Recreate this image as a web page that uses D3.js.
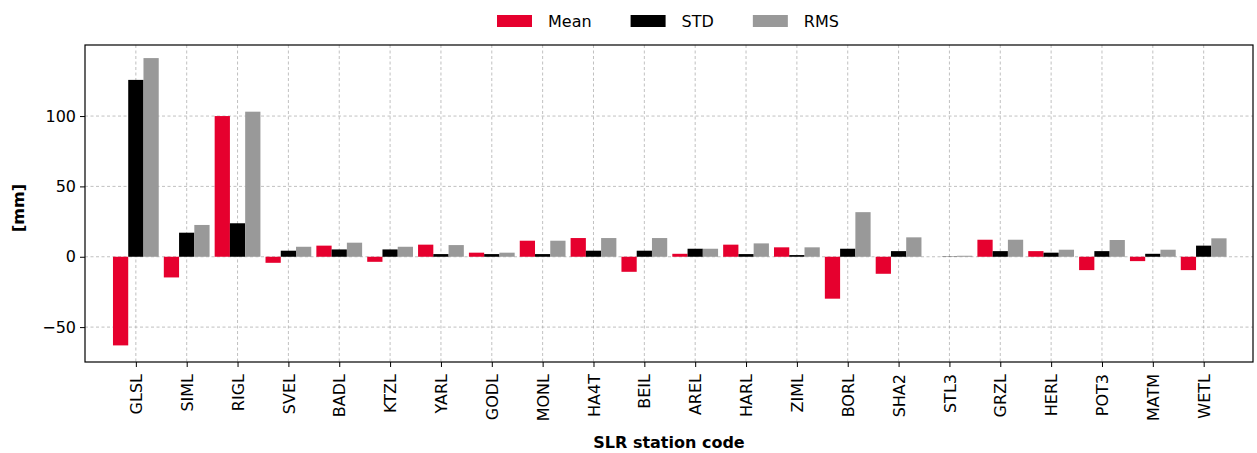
<!DOCTYPE html>
<html>
<head>
<meta charset="utf-8">
<script src="https://cdn.jsdelivr.net/npm/d3@7"></script>
<style>
    body { margin: 0; background: #fff; }
    svg text { font-family: "DejaVu Sans", sans-serif; }
</style>
</head>
<body>
<script>
// Station codes and values [mm]
const stations = ["GLSL", "SIML", "RIGL", "SVEL", "BADL", "KTZL", "YARL", "GODL", "MONL", "HA4T", "BEIL",
    "AREL", "HARL", "ZIML", "BORL", "SHA2", "STL3", "GRZL", "HERL", "POT3", "MATM", "WETL"];
const meanVals = [-63, -14.7, 100, -4.3, 7.9, -3.6, 8.6, 2.9, 11.4, 13.3, -10.7,
    2.1, 8.6, 6.7, -29.8, -12.1, 0, 12.1, 4, -9.5, -3.1, -9.5];
const stdVals = [125.7, 17.1, 23.8, 4.3, 5.2, 5.2, 1.9, 1.9, 1.9, 4.3, 4.3,
    5.7, 1.9, 1.2, 5.7, 4, 0.2, 4, 2.9, 4, 2.1, 7.9];
const rmsVals = [141.2, 22.6, 103.1, 7.1, 10, 7.1, 8.3, 2.9, 11.4, 13.3, 13.3,
    5.7, 9.5, 6.7, 31.7, 13.8, 0.7, 12.1, 5, 11.9, 5, 13.1];
const yTicks = [-50, 0, 50, 100];

const series = [
    { name: "Mean", values: meanVals, color: "#e6002e", offset: -0.3 },
    { name: "STD", values: stdVals, color: "#000000", offset: 0 },
    { name: "RMS", values: rmsVals, color: "#999999", offset: 0.3 }
];

const width = 1257;
const height = 453;
const plotLeft = 85, plotRight = 1253, plotTop = 45, plotBottom = 362;

const svg = d3.select("body").append("svg")
    .attr("width", width)
    .attr("height", height);

const x = d3.scaleLinear().domain([-1, 21.97]).range([plotLeft, plotRight]);
const y = d3.scaleLinear().domain([-74.8, 150.5]).range([plotBottom, plotTop]);
const barW = x(0.3) - x(0);

// Grid
const grid = svg.append("g")
    .attr("stroke", "#b0b0b0")
    .attr("stroke-width", 0.8)
    .attr("stroke-dasharray", "3,2.5");

grid.selectAll(".vgrid")
    .data(stations)
    .join("line")
    .attr("x1", (d, i) => x(i))
    .attr("x2", (d, i) => x(i))
    .attr("y1", plotTop)
    .attr("y2", plotBottom);

grid.selectAll(".hgrid")
    .data(yTicks)
    .join("line")
    .attr("x1", plotLeft)
    .attr("x2", plotRight)
    .attr("y1", d => y(d))
    .attr("y2", d => y(d));

// Bars
series.forEach(s => {
    svg.append("g")
        .selectAll("rect")
        .data(s.values)
        .join("rect")
        .attr("x", (d, i) => x(i + s.offset) - barW / 2)
        .attr("width", barW)
        .attr("y", d => y(Math.max(0, d)))
        .attr("height", d => Math.abs(y(d) - y(0)))
        .attr("fill", s.color);
});

// Axes
const xAxis = svg.append("g")
    .attr("transform", `translate(0,${plotBottom})`)
    .call(d3.axisBottom(x)
        .tickValues(d3.range(stations.length))
        .tickFormat(i => stations[i])
        .tickSize(5)
        .tickPadding(4)
        .tickSizeOuter(0));

xAxis.selectAll("text")
    .attr("font-size", 16)
    .attr("fill", "#000")
    .attr("transform", "rotate(-90)")
    .attr("text-anchor", "end")
    .attr("x", -12)
    .attr("y", 0)
    .attr("dy", "0.35em");

const yAxis = svg.append("g")
    .attr("transform", `translate(${plotLeft},0)`)
    .call(d3.axisLeft(y)
        .tickValues(yTicks)
        .tickFormat(d => d < 0 ? "\u2212" + Math.abs(d) : d)
        .tickSize(5)
        .tickPadding(4)
        .tickSizeOuter(0));

yAxis.selectAll("text").attr("font-size", 16).attr("fill", "#000");
svg.selectAll(".domain").remove();
svg.selectAll(".tick line").attr("stroke", "#000").attr("stroke-width", 1);

// Frame
svg.append("rect")
    .attr("x", plotLeft)
    .attr("y", plotTop)
    .attr("width", plotRight - plotLeft)
    .attr("height", plotBottom - plotTop)
    .attr("fill", "none")
    .attr("stroke", "#000")
    .attr("stroke-width", 1.2);

// Axis labels
svg.append("text")
    .attr("transform", "translate(24,208) rotate(-90)")
    .attr("text-anchor", "middle")
    .attr("font-size", 16)
    .attr("font-weight", "bold")
    .text("[mm]");

svg.append("text")
    .attr("x", (plotLeft + plotRight) / 2)
    .attr("y", 448)
    .attr("text-anchor", "middle")
    .attr("font-size", 16)
    .attr("font-weight", "bold")
    .text("SLR station code");

// Legend
const legend = svg.append("g");
let lx = 497;
series.forEach(s => {
    legend.append("rect")
        .attr("x", lx)
        .attr("y", 15)
        .attr("width", 35)
        .attr("height", 12)
        .attr("fill", s.color);
    const t = legend.append("text")
        .attr("x", lx + 51)
        .attr("y", 26.5)
        .attr("font-size", 16)
        .text(s.name);
    lx += 51 + t.node().getComputedTextLength() + 39;
});
</script>
</body>
</html>
